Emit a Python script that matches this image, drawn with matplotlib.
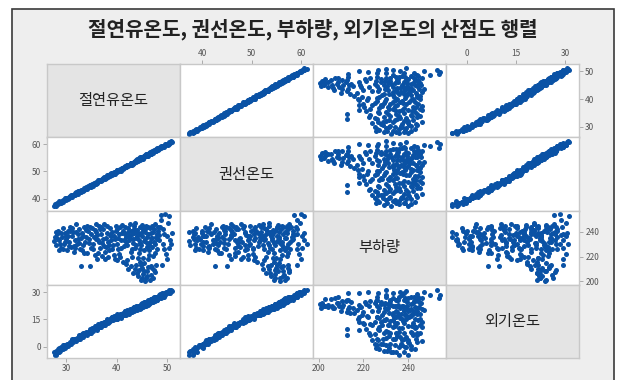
import matplotlib
matplotlib.use('Agg')
import matplotlib.pyplot as plt
from matplotlib.patches import Rectangle

plt.rcParams['font.family'] = ['Noto Sans CJK KR', 'DejaVu Sans']

title = '절연유온도, 권선온도, 부하량, 외기온도의 산점도 행렬'
names = ['절연유온도', '권선온도', '부하량', '외기온도']

# 절연유온도
oil = [27.5, 27.8, 28.0, 28.2, 28.4, 28.6, 28.9, 29.1, 29.3, 29.5, 29.7, 29.9, 30.1, 30.3, 30.0, 28.7, 29.4, 27.9,
       30.5, 30.7, 30.9, 31.1, 31.3, 31.5, 31.7, 31.9, 32.1, 32.3, 32.5, 32.7, 32.9, 33.0, 33.2, 33.4, 33.6, 33.8,
       34.0, 34.2, 34.4, 34.6, 34.8, 35.0, 30.8, 31.6, 32.4, 33.1, 34.1, 34.9,
       35.2, 35.4, 35.6, 35.8, 36.0, 36.1, 36.3, 36.5, 36.7, 36.9, 37.1, 37.3, 37.5, 37.7, 37.8, 38.0, 38.2, 38.4,
       38.6, 38.8, 39.0, 39.2, 39.4, 39.6, 39.8, 40.0, 40.2, 40.4, 40.6, 40.8, 41.0, 41.2, 41.4, 35.9, 36.8, 37.9,
       38.9, 39.9, 40.7, 41.3,
       41.6, 41.8, 42.0, 42.2, 42.4, 42.6, 42.8, 43.0, 43.2, 43.4, 43.6, 43.7, 43.9, 44.1, 44.3, 44.5, 44.7, 44.9,
       45.1, 45.3, 45.5, 45.7, 45.9, 46.1, 46.3, 46.5, 46.7, 46.9, 47.1, 47.3, 47.5, 47.7, 47.9, 48.1, 48.3, 48.5,
       42.1, 43.1, 44.0, 44.6, 45.0, 45.6, 46.0, 46.6, 47.0, 47.6, 48.0, 42.7, 43.5, 46.2,
       41.8, 42.3, 42.9, 43.3, 43.8, 44.2, 44.4, 44.8, 45.0, 45.2, 45.4, 45.8, 46.0, 46.3, 46.6, 46.8, 47.0, 47.3,
       47.6, 47.9, 45.6, 44.6,
       48.7, 48.9, 49.2, 49.4, 49.6, 49.8, 50.0, 50.2, 50.4, 50.6, 50.8, 51.0, 49.0, 49.5,
       28.3, 29.0, 29.8, 30.4, 31.2, 31.8, 32.6, 33.3, 33.9, 34.5, 28.5, 30.6, 32.0, 33.5, 34.7,
       35.3, 35.7, 36.2, 36.6, 37.0, 37.4, 37.6, 38.1, 38.3, 38.7, 39.1, 39.3, 39.7, 40.1, 40.3, 40.5, 40.9, 41.1,
       41.5, 36.4, 37.2, 38.5, 39.5, 40.0, 36.0,
       41.7, 41.9, 42.2, 42.5, 42.9, 43.2, 43.5, 43.8, 44.0, 44.3, 44.6, 44.8, 45.1, 45.4, 45.7, 46.0, 46.3, 46.5,
       46.8, 47.1, 47.4, 47.7, 48.0, 48.2, 48.4, 43.0, 44.5, 45.2, 46.4, 47.2,
       43.6, 44.1, 44.9, 45.5, 46.1, 46.9, 47.4, 45.1,
       48.8, 49.3, 50.1, 50.5]

# 권선온도
winding = [37.4, 38.1, 37.6, 38.3, 38.1, 39.0, 38.7, 39.1, 38.8, 39.7, 40.0, 39.5, 40.2, 40.0, 40.4, 38.5, 39.4, 37.4,
           40.7, 40.6, 41.2, 40.7, 41.4, 41.2, 42.1, 41.7, 42.1, 41.8, 42.7, 42.6, 43.2, 42.6, 43.3, 43.1, 44.0, 43.6,
           44.0, 43.7, 44.6, 44.5, 45.1, 44.6, 40.9, 41.3, 42.8, 42.9, 44.1, 44.4,
           45.4, 45.3, 45.9, 45.4, 46.1, 45.8, 46.7, 46.3, 46.7, 46.4, 47.3, 47.2, 47.8, 47.3, 47.9, 47.7, 48.6, 48.2,
           48.6, 48.3, 49.2, 49.1, 49.7, 49.2, 49.9, 49.7, 50.6, 50.2, 50.6, 50.3, 51.2, 51.1, 51.7, 45.5, 46.9, 47.6,
           49.3, 49.7, 50.7, 50.8,
           51.8, 51.7, 52.3, 51.8, 52.5, 52.3, 53.2, 52.8, 53.2, 52.9, 53.8, 53.6, 54.2, 53.7, 54.4, 54.2, 55.1, 54.7,
           55.1, 54.8, 55.7, 55.6, 56.2, 55.7, 56.4, 56.2, 57.1, 56.7, 57.1, 56.8, 57.7, 57.6, 58.2, 57.7, 58.4, 58.2,
           52.5, 52.9, 54.0, 54.1, 55.2, 55.5, 56.3, 56.2, 57.1, 57.3, 58.4, 52.5, 53.5, 55.7,
           52.0, 52.2, 53.2, 52.9, 53.9, 53.9, 54.8, 54.6, 55.0, 54.7, 55.6, 55.7, 56.3, 55.9, 56.7, 56.5, 57.4, 57.1,
           57.6, 57.4, 55.8, 54.5,
           59.0, 58.5, 59.3, 59.1, 60.0, 59.6, 60.0, 59.7, 60.6, 60.5, 61.1, 60.6, 59.1, 59.2,
           38.3, 38.6, 40.1, 40.2, 41.4, 41.3, 42.7, 43.0, 44.3, 44.4, 38.5, 40.2, 42.3, 43.3, 44.9,
           44.8, 45.8, 45.9, 47.0, 46.9, 47.4, 47.2, 48.4, 48.1, 48.9, 48.6, 49.4, 49.4, 50.5, 50.2, 50.5, 50.5, 51.4,
           51.3, 46.6, 46.7, 48.6, 49.2, 50.4, 45.9,
           51.7, 51.5, 52.5, 52.3, 53.1, 52.7, 53.6, 53.5, 54.4, 54.2, 54.6, 54.4, 55.4, 55.2, 55.9, 55.5, 56.4, 56.2,
           57.2, 57.0, 57.4, 57.3, 58.3, 58.0, 58.6, 52.5, 54.6, 54.9, 56.8, 57.1,
           53.6, 53.7, 55.2, 55.3, 56.3, 56.4, 57.5, 54.8,
           59.2, 59.2, 60.1, 60.1]

# 부하량
load = [232.5, 236, 229, 238, 241, 233, 227, 236, 243, 230, 239, 234, 225, 241, 237, 230.5, 226, 240,
        232, 244, 228, 237, 240, 224, 233, 246, 230, 238, 242, 226, 235, 212.5, 239, 229, 244, 232,
        236, 223, 241, 231, 212.5, 238, 240.5, 228.5, 234, 225, 245, 227,
        243, 230, 236, 221, 240, 217.8, 233, 245, 227, 238, 231, 242, 246, 224, 217.8, 235, 239, 220,
        229, 243, 233, 226, 237, 218, 241, 230, 235, 222, 244, 227, 239, 216, 233, 234, 242.5, 228,
        236.5, 245, 219.5, 241,
        244, 236, 229, 240, 233, 246, 224, 238, 231, 242, 227, 247, 235, 240, 219, 233, 244, 229,
        237, 241, 225, 234, 245, 231, 238, 221, 243, 235, 228, 240, 232, 246, 236, 226, 241, 233,
        217, 220, 236.5, 226, 243, 239.5, 228, 232, 244.5, 223, 238.5, 235, 239, 218,
        214, 210, 212.5, 207, 213, 204, 209, 201, 211, 206, 214.5, 203, 208.5, 212, 201.5, 205.5, 210.5, 203,
        207.5, 213, 200.5, 215.5,
        244, 253.5, 230, 238, 254, 222, 218, 247, 253, 233, 230, 239, 213, 226,
        234.6, 238.7, 231.4, 236.8, 243.3, 226.7, 231.2, 236.4, 241.6, 234.3, 225.4, 228.8, 239.7, 222.6, 243.8,
        226.4, 241.7, 237.3, 231.6, 243.6, 234.2, 228.3, 244.4, 231.8, 237.6, 240.2, 229.4, 234.6, 242.2, 226.2,
        238.4, 233.7, 245.2, 228.4, 223.1, 220.4, 225.2, 221.6, 217.4, 246.3,
        238.2, 231.6, 243.4, 236.6, 240.8, 234.4, 244.6, 229.6, 241.4, 237.6, 230.6, 239.4, 245.6, 232.4, 242.2,
        235.6, 244.2, 229.4, 238.8, 235.4, 242.6, 230.2, 234.4, 244.2, 237.2, 226.4, 222.6, 218.6, 225.4, 220.6,
        210.4, 206.6, 213.6, 208.4, 204.4, 212.8, 208.8, 202.6,
        249.6, 242.4, 236.4, 226.6]

# 외기온도
ambient = [-3.1, -4.4, -2.7, -3.2, -1.1, -3.2, -1.4, -0.5, -1.4, 0.7, -0.2, 0.8, 1.5, 0.1, 0.9, -2.3, 0.7, -4.5,
           1.4, 2.4, 1.5, 3.5, 2.7, 3.6, 4.4, 2.9, 4.6, 4.1, 6.2, 4.0, 5.6, 6.4, 5.4, 7.4, 6.5, 7.4,
           8.1, 6.6, 8.3, 7.8, 9.8, 7.6, 2.0, 4.0, 4.1, 6.9, 7.3, 9.1,
           10.0, 8.5, 10.1, 9.6, 11.6, 9.3, 10.9, 11.8, 10.8, 12.8, 11.9, 12.8, 13.6, 12.1, 13.5, 13.0, 15.0, 12.8,
           14.5, 15.4, 14.4, 16.3, 15.4, 16.2, 16.9, 15.3, 16.9, 16.3, 18.2, 16.0, 17.5, 18.4, 17.3, 11.3, 11.5, 13.8,
           15.7, 15.2, 17.5, 17.4,
           19.5, 17.2, 18.8, 19.6, 18.6, 20.5, 19.6, 20.4, 21.0, 19.5, 21.0, 20.4, 22.3, 20.1, 21.6, 22.4, 21.4, 23.4,
           22.5, 23.4, 24.0, 22.5, 24.1, 23.6, 25.6, 23.3, 24.9, 25.8, 24.8, 26.8, 25.8, 26.7, 27.4, 25.9, 27.5, 26.9,
           20.1, 18.8, 21.2, 22.6, 21.8, 24.4, 23.7, 25.2, 26.1, 25.2, 27.0, 19.1, 21.8, 22.9,
           18.5, 19.7, 19.2, 21.4, 20.8, 21.9, 22.5, 21.3, 22.8, 22.3, 24.3, 22.4, 23.9, 25.0, 24.1, 26.1, 25.1, 26.2,
           27.0, 25.6, 23.7, 21.5,
           28.9, 26.7, 28.4, 29.3, 28.3, 30.3, 29.3, 30.2, 31.3, 29.4, 31.0, 30.4, 29.3, 27.5,
           -3.1, -0.3, -0.9, 1.5, 4.0, 3.5, 5.9, 5.0, 7.7, 7.3, -1.0, 1.6, 3.5, 7.5, 7.3,
           9.5, 11.3, 10.4, 12.1, 10.8, 13.1, 12.1, 14.8, 14.0, 14.0, 16.1, 14.4, 16.1, 17.7, 16.4, 17.6, 16.2, 18.2,
           17.4, 12.2, 12.3, 13.7, 16.6, 15.2, 10.6,
           19.7, 18.3, 19.7, 18.2, 20.4, 19.4, 21.7, 21.0, 20.6, 22.5, 20.9, 22.5, 24.0, 22.8, 24.2, 22.7, 24.9, 23.8,
           26.2, 25.5, 25.3, 27.2, 25.6, 27.2, 28.6, 19.7, 22.5, 21.6, 25.0, 24.8,
           21.8, 21.4, 21.8, 24.1, 23.0, 25.4, 27.2, 22.4,
           28.6, 27.4, 30.2, 29.4]

data = [oil, winding, load, ambient]
limits = [(26.2, 52.6), (35.5, 62.4), (197.5, 256.8), (-6.3, 34.2)]
ticks = [[30, 40, 50], [40, 50, 60], [200, 220, 240], [0, 15, 30]]

fig = plt.figure(figsize=(6.19, 3.80), dpi=100, facecolor='white')

# outer frame of the minitab window, kept behind the panels
frame = Rectangle((12 / 619, -0.05), 602 / 619, 1.05 - 8.5 / 380, transform=fig.transFigure,
                  facecolor='#eeeeee', edgecolor='#3a3a3a', lw=1.2, zorder=-5)
fig.patches.append(frame)

fig.text(313 / 619, 1 - 29 / 380, title, ha='center', va='center',
         fontsize=14.5, fontweight='bold', color='#222222')

axes = fig.subplots(4, 4, gridspec_kw=dict(left=47 / 619, right=579 / 619, bottom=1 - 358 / 380,
                                           top=1 - 64 / 380, hspace=0, wspace=0))

for i in range(4):
    for j in range(4):
        ax = axes[i, j]
        ax.set_xlim(limits[j])
        ax.set_ylim(limits[i])
        ax.set_xticks([])
        ax.set_yticks([])
        for s in ax.spines.values():
            s.set_color('#c8c8c8')
            s.set_linewidth(1.0)
        if i == j:
            ax.set_facecolor('#e4e4e4')
            ax.text(0.5, 0.5, names[i], transform=ax.transAxes, ha='center', va='center',
                    fontsize=11, color='#222222')
        else:
            ax.set_facecolor('white')
            ax.scatter(data[j], data[i], s=13, color='#0a52a5', linewidths=0)

tick_kw = dict(length=3, width=0.6, color='#a0a0a0', labelsize=6, labelcolor='#555555', pad=1.5)

# x ticks alternate bottom / top
for j, (row, side) in enumerate([(3, 'bottom'), (0, 'top'), (3, 'bottom'), (0, 'top')]):
    ax = axes[row, j]
    ax.set_xticks(ticks[j])
    ax.xaxis.set_ticks_position(side)
    ax.tick_params(axis='x', **tick_kw)

# y ticks alternate right / left
for i, (col, side) in enumerate([(3, 'right'), (0, 'left'), (3, 'right'), (0, 'left')]):
    ax = axes[i, col]
    ax.set_yticks(ticks[i])
    ax.yaxis.set_ticks_position(side)
    ax.tick_params(axis='y', **tick_kw)

fig.savefig('out.png', dpi=100, facecolor=fig.get_facecolor())
